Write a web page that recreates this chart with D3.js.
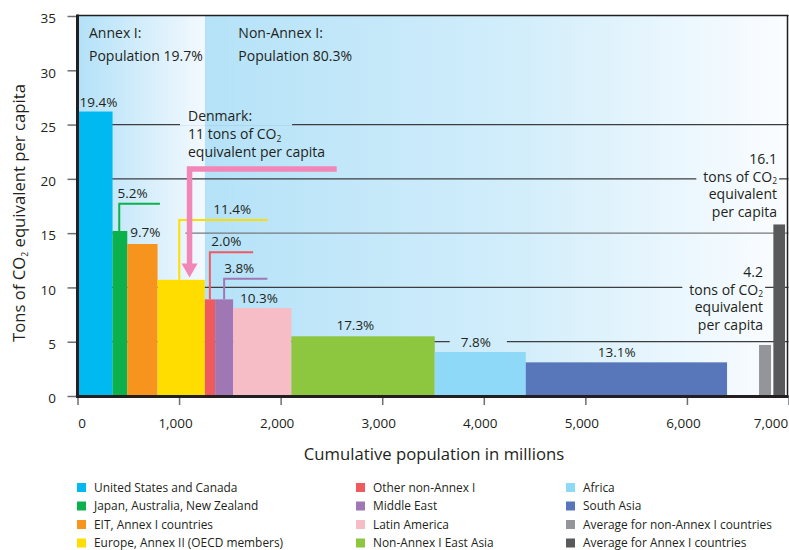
<!DOCTYPE html>
<html>
<head>
<meta charset="utf-8">
<script src="https://cdn.jsdelivr.net/npm/d3@7"></script>
<style>
  body { margin: 0; background: #fff; }
  text { font-family: "Open Sans", Lato, sans-serif; fill: #231f20; }
</style>
</head>
<body>
<div id="container"></div>
<script>
let w = 789;
let h = 550;
let fontFam = "'Open Sans', Lato, sans-serif";
let fsNote = 14;   // annotation text
let fsShare = 13.5;
let fsTick = 13.5;
let fsTitle = 16.7;
let fsLegend = 11.9;

// DATA
let regions = ["United States and Canada", "Japan, Australia, New Zealand", "EIT, Annex I countries",
  "Europe, Annex II (OECD members)", "Other non-Annex I", "Middle East", "Latin America",
  "Non-Annex I East Asia", "Africa", "South Asia"];
let population = [345, 145, 298, 466, 101, 177, 574, 1411, 896, 1982];   // millions
let perCapita = [26.2, 15.2, 14.0, 10.7, 8.9, 8.9, 8.1, 5.5, 4.05, 3.1]; // t CO2-eq per capita
let emissionShare = ["19.4%", "5.2%", "9.7%", "11.4%", "2.0%", "3.8%", "10.3%", "17.3%", "7.8%", "13.1%"];
let regionColors = ["#00b9f1", "#0db14b", "#f7941d", "#ffdd00", "#ef5a5f", "#a077b5", "#f7bdc6",
  "#8dc63f", "#8ed8f8", "#5877bb"];
let annexCount = 4; // first four regions are Annex I

let averageNames = ["Average for non-Annex I countries", "Average for Annex I countries"];
let averageValues = [4.7, 15.8];
let averageLabels = ["4.2", "16.1"];
let averageFrom = [6710, 6851];
let averageTo = [6828, 6966];
let averageColors = ["#939598", "#58595b"];

let annexNames = ["Annex I:", "Non-Annex I:"];
let annexShare = ["19.7%", "80.3%"];
let denmark = 11;

let yTicks = [0, 5, 10, 15, 20, 25, 30, 35];
let xTicks = [0, 1000, 2000, 3000, 4000, 5000, 6000, 7000];
let gridValues = [5, 10, 15, 20, 25];

// label / callout layout per bar (pixels relative to bar left, callout level in t/capita)
let labelLayout = [
  { tx: 2, dy: -4.3 },
  { tx: 5, cx: 6.7, level: 17.7, len: 40.7, color: "#0db14b" },
  { tx: 3, dy: -7, gap: [10, 25] },
  { tx: 55.7, cx: 21.7, level: 16.2, len: 88.3, color: "#ffdd00" },
  { tx: 6.3, cx: 5, level: 13.25, len: 43.3, color: "#ef5a5f" },
  { tx: 9, cx: 9, level: 10.8, len: 43.3, color: "#a077b5" },
  { tx: 7, dy: -5.4 },
  { tx: 45, dy: -6.7 },
  { tx: 26, dy: -5.3, gap: [11, 16] },
  { tx: 72, dy: -5.3 }
];

let ends = d3.cumsum(population);
let starts = ends.map((e, i) => e - population[i]);
let annexPop = ends[annexCount - 1];

// SVG
let svg = d3.select("#container").append("svg")
  .attr("width", w)
  .attr("height", h);

let x = d3.scaleLinear().domain([0, 7000]).range([77.5, 788.5]);
let y = d3.scaleLinear().domain([0, 35]).range([396, 16]);

let defs = svg.append("defs");
let g1 = defs.append("linearGradient").attr("id", "bgAnnex");
g1.append("stop").attr("offset", "0%").attr("stop-color", "#b3e1f8");
g1.append("stop").attr("offset", "100%").attr("stop-color", "#f3f9fe");
let g2 = defs.append("linearGradient").attr("id", "bgNon");
g2.append("stop").attr("offset", "0%").attr("stop-color", "#b5e2f8");
g2.append("stop").attr("offset", "55%").attr("stop-color", "#d3eefb");
g2.append("stop").attr("offset", "100%").attr("stop-color", "#fbfdff");

svg.append("rect").attr("x", x(0)).attr("y", y(35)).attr("width", x(annexPop) - x(0))
  .attr("height", y(0) - y(35)).attr("fill", "url(#bgAnnex)");
svg.append("rect").attr("x", x(annexPop)).attr("y", y(35)).attr("width", x(7000) - x(annexPop))
  .attr("height", y(0) - y(35)).attr("fill", "url(#bgNon)");

// gridlines (masked later where text sits on them)
let grid = svg.append("g").attr("mask", "url(#gridMask)");
grid.selectAll("line").data(gridValues).enter().append("line")
  .attr("x1", x(0)).attr("x2", x(7000))
  .attr("y1", d => y(d)).attr("y2", d => y(d))
  .attr("stroke", d => d == 15 ? "#77787b" : "#3d3d3f")
  .attr("stroke-width", 1.2);

// bars
svg.selectAll(".region").data(regions).enter().append("rect")
  .attr("class", "region")
  .attr("x", (d, i) => x(starts[i]))
  .attr("width", (d, i) => x(ends[i]) - x(starts[i]))
  .attr("y", (d, i) => y(perCapita[i]))
  .attr("height", (d, i) => y(0) - y(perCapita[i]))
  .attr("fill", (d, i) => regionColors[i]);

svg.selectAll(".avg").data(averageValues).enter().append("rect")
  .attr("class", "avg")
  .attr("x", (d, i) => x(averageFrom[i]))
  .attr("width", (d, i) => x(averageTo[i]) - x(averageFrom[i]))
  .attr("y", d => y(d))
  .attr("height", d => y(0) - y(d))
  .attr("fill", (d, i) => averageColors[i]);

// share labels + callouts
regions.forEach((r, i) => {
  let L = labelLayout[i];
  let bx = x(starts[i]);
  let base;
  if (L.level != undefined) {
    svg.append("polyline")
      .attr("points", [[bx + L.cx, y(perCapita[i])], [bx + L.cx, y(L.level)], [bx + L.cx + L.len, y(L.level)]].join(" "))
      .attr("fill", "none").attr("stroke", L.color).attr("stroke-width", 2);
    base = y(L.level) - 6;
  } else {
    base = y(perCapita[i]) + L.dy;
  }
  let t = svg.append("text")
    .attr("x", bx + L.tx).attr("y", base)
    .attr("font-size", fsShare)
    .text(emissionShare[i]);
  if (L.gap) t.attr("class", "gap").attr("data-pl", L.gap[0]).attr("data-pr", L.gap[1]);
});

// Annex headings
annexNames.forEach((n, i) => {
  let tx = (i == 0 ? x(0) : x(annexPop)) + 11.5 + (i == 0 ? 0 : 22);
  svg.append("text").attr("x", tx).attr("y", 38).attr("font-size", fsNote).text(n);
  svg.append("text").attr("x", tx).attr("y", 61).attr("font-size", fsNote).text("Population " + annexShare[i]);
});

// helper for multi-line labels with CO2 subscript
function co2Line(sel, before, after) {
  sel.append("tspan").text(before + "CO");
  sel.append("tspan").attr("font-size", 8.5).attr("dy", 2.5).text("2");
  if (after) sel.append("tspan").attr("dy", -2.5).text(after);
}

// Denmark annotation
let dk = svg.append("g");
dk.append("text").attr("class", "gap").attr("data-pl", 8).attr("data-pr", 40)
  .attr("x", 188).attr("y", 120.7).attr("font-size", fsNote).text("Denmark:");
co2Line(dk.append("text").attr("x", 188).attr("y", 139).attr("font-size", fsNote), "11 tons of ");
dk.append("text").attr("x", 188).attr("y", 157).attr("font-size", fsNote).text("equivalent per capita");

let pink = "#f287b7";
let ax = x(1103);
svg.append("polyline")
  .attr("points", [[x(2552), y(20.9)], [ax, y(20.9)], [ax, y(denmark) - 12]].join(" "))
  .attr("fill", "none").attr("stroke", pink).attr("stroke-width", 5.5);
svg.append("polygon")
  .attr("points", [[ax - 8, y(denmark) - 13], [ax + 8, y(denmark) - 13], [ax, y(denmark) + 1]].join(" "))
  .attr("fill", pink);

// average annotations
let avgAnchor = [763, 777];
let avgTop = [277, 164];
let avgLead = [17.6, 17.6];
averageLabels.forEach((lab, i) => {
  let ys = d3.range(4).map(k => avgTop[i] + k * avgLead[i]);
  let mk = k => svg.append("text").attr("class", "gap").attr("data-pl", 7).attr("data-pr", 2)
    .attr("x", avgAnchor[i]).attr("y", ys[k]).attr("font-size", fsNote).attr("text-anchor", "end");
  mk(0).text(lab);
  co2Line(mk(1), "tons of ");
  mk(2).text("equivalent");
  mk(3).text("per capita");
});

// mask for gridline gaps
let mask = defs.append("mask").attr("id", "gridMask")
  .attr("maskUnits", "userSpaceOnUse").attr("x", 0).attr("y", 0).attr("width", w).attr("height", h);
mask.append("rect").attr("width", w).attr("height", h).attr("fill", "white");
svg.selectAll("text.gap").each(function () {
  let b = this.getBBox();
  let pl = +this.getAttribute("data-pl"), pr = +this.getAttribute("data-pr");
  mask.append("rect")
    .attr("x", b.x - pl).attr("y", b.y - 1)
    .attr("width", b.width + pl + pr).attr("height", b.height + 2)
    .attr("fill", "black");
});

// axes
let yAxis = svg.append("g").attr("transform", `translate(${x(0)},0)`)
  .call(d3.axisLeft(y).tickValues(yTicks).tickSize(10).tickPadding(11.5));
yAxis.select(".domain").remove();
yAxis.selectAll(".tick line").attr("stroke", "#6d6e71").attr("stroke-width", 1.5);
yAxis.selectAll(".tick text").attr("font-size", fsTick).attr("font-family", fontFam)
  .attr("fill", "#231f20").attr("dy", "0.5em");

let xAxis = svg.append("g").attr("transform", `translate(0,${y(0)})`)
  .call(d3.axisBottom(x).tickValues(xTicks).tickSize(9).tickFormat(d3.format(",")));
xAxis.select(".domain").remove();
xAxis.selectAll(".tick line").attr("stroke", "#6d6e71").attr("stroke-width", 1.5);
xAxis.selectAll(".tick text").attr("font-size", fsTick).attr("font-family", fontFam)
  .attr("fill", "#231f20").attr("y", 32).attr("dy", 0)
  .attr("dx", d => d == 0 ? 4 : d == 7000 ? -18 : -4);

// frame
svg.append("line").attr("x1", x(0)).attr("x2", x(0)).attr("y1", 14.5).attr("y2", 397.5)
  .attr("stroke", "#231f20").attr("stroke-width", 3);
svg.append("line").attr("x1", x(0) - 1.5).attr("x2", 788.5).attr("y1", 396.5).attr("y2", 396.5)
  .attr("stroke", "#231f20").attr("stroke-width", 3);
svg.append("line").attr("x1", x(0)).attr("x2", 788.5).attr("y1", 15.5).attr("y2", 15.5)
  .attr("stroke", "#231f20").attr("stroke-width", 1.5);
svg.append("line").attr("x1", 787.5).attr("x2", 787.5).attr("y1", 15).attr("y2", 397)
  .attr("stroke", "#231f20").attr("stroke-width", 1.5);

// axis titles
svg.append("text").attr("x", 434).attr("y", 460).attr("font-size", fsTitle)
  .attr("text-anchor", "middle").text("Cumulative population in millions");
let yt = svg.append("text").attr("transform", "translate(25,213) rotate(-90)")
  .attr("font-size", fsTitle).attr("text-anchor", "middle");
co2Line(yt, "Tons of ", " equivalent per capita");

// legend
let legendNames = regions.concat(averageNames);
let legendColors = regionColors.concat(averageColors);
let colX = [77, 356, 566];
let rowY = [487.5, 506, 524.5, 543];
let legend = svg.selectAll(".legend").data(legendNames).enter().append("g")
  .attr("class", "legend")
  .attr("transform", (d, i) => `translate(${colX[Math.floor(i / 4)]},${rowY[i % 4]})`);
legend.append("rect").attr("x", 0).attr("y", -4.5).attr("width", 9).attr("height", 9)
  .attr("fill", (d, i) => legendColors[i]);
legend.append("text").attr("x", 17).attr("y", 4.2).attr("font-size", fsLegend).text(d => d);
</script>
</body>
</html>
